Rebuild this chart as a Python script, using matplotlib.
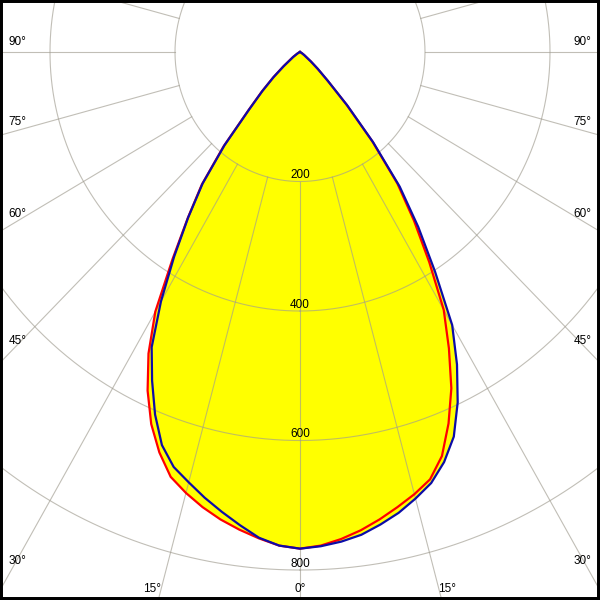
import matplotlib
matplotlib.use('Agg')
import matplotlib.pyplot as plt
import numpy as np
from matplotlib.transforms import offset_copy

plt.rcParams['font.family'] = ['Liberation Sans', 'DejaVu Sans']

# luminous intensity (cd) vs gamma angle (deg)
gamma = [0, 2.5, 5, 7.5, 10, 12.5, 15, 17.5, 20, 22.5, 25, 27.5, 30, 32.5,
         35, 37.5, 40, 42.5, 45, 47.5, 50, 55, 60, 70, 80, 90]

red_left = [767, 763, 754, 744, 733, 720, 705, 688, 658, 622, 577, 525, 463, 380,
            313, 258, 190, 122, 86, 58, 35, 14, 5, 1, 0, 0]
red_right = [767, 763, 755, 745, 733, 720, 707, 692, 664, 621, 573, 516, 460, 385,
             318, 256, 180, 110, 62, 38, 22, 8, 3, 0, 0, 0]
blue_left = [767, 763, 753, 737, 721, 705, 688, 672, 646, 606, 560, 514, 445, 375,
             312, 256, 188, 121, 85, 57, 34, 13, 5, 1, 0, 0]
blue_right = [767, 764, 759, 752, 741, 729, 714, 698, 674, 643, 597, 544, 487, 402,
              330, 262, 182, 112, 63, 39, 23, 8, 3, 0, 0, 0]

rings = [200, 400, 600, 800]
spoke_step = 15
side_labels = ['90°', '75°', '60°', '45°', '30°']
bottom_labels = ['15°', '0°', '15°']


def curve(left, right):
    g = np.radians(gamma)
    xl = -np.array(left) * np.sin(g)
    yl = -np.array(left) * np.cos(g)
    xr = np.array(right) * np.sin(g)
    yr = -np.array(right) * np.cos(g)
    return (np.concatenate([xl[::-1], xr[1:]]),
            np.concatenate([yl[::-1], yr[1:]]))


fig = plt.figure(figsize=(6, 6), dpi=100)
ax = fig.add_axes([0, 0, 1, 1])
ax.set_xlim(-480, 480)
ax.set_ylim(-846.3, 80.3)
ax.set_xticks([])
ax.set_yticks([])
for s in ax.spines.values():
    s.set_linewidth(4.3)
    s.set_color('black')

xr, yr = curve(red_left, red_right)
xb, yb = curve(blue_left, blue_right)
ax.fill(xr, yr, color='#ffff00', lw=0, zorder=1)
ax.fill(xb, yb, color='#ffff00', lw=0, zorder=1)

# grid
grid_kw = dict(color='#a09c90', alpha=0.65, lw=0.8, zorder=2)
t = np.linspace(0, 2 * np.pi, 721)
for r in rings:
    ax.plot(r * np.sin(t), -r * np.cos(t), **grid_kw)
for a in range(0, 360, spoke_step):
    ar = np.radians(a)
    ax.plot([rings[0] * np.sin(ar), 3000 * np.sin(ar)],
            [-rings[0] * np.cos(ar), -3000 * np.cos(ar)], **grid_kw)

ax.plot(xr, yr, color='#ff0000', lw=1.6, zorder=3, solid_joinstyle='round')
ax.plot(xb, yb, color='#0c0ca8', lw=1.6, zorder=4, solid_joinstyle='round')

# ring values
tr = offset_copy(ax.transData, fig=fig, y=2.5, units='points')
for r in rings:
    ax.text(0, -r, str(r), ha='center', va='baseline', fontsize=8.5,
            transform=tr, zorder=5)

# angle labels
side_y = [15, -108, -250, -446, -786]
for lab, y in zip(side_labels, side_y):
    ax.text(-466, y, lab, ha='left', va='center', fontsize=8.5, zorder=5)
    ax.text(466, y, lab, ha='right', va='center', fontsize=8.5, zorder=5)
for lab, x in zip(bottom_labels, [-237, 0, 235]):
    ax.text(x, -829, lab, ha='center', va='center', fontsize=8.5, zorder=5)

plt.savefig('out.png', dpi=100)
plt.close()
